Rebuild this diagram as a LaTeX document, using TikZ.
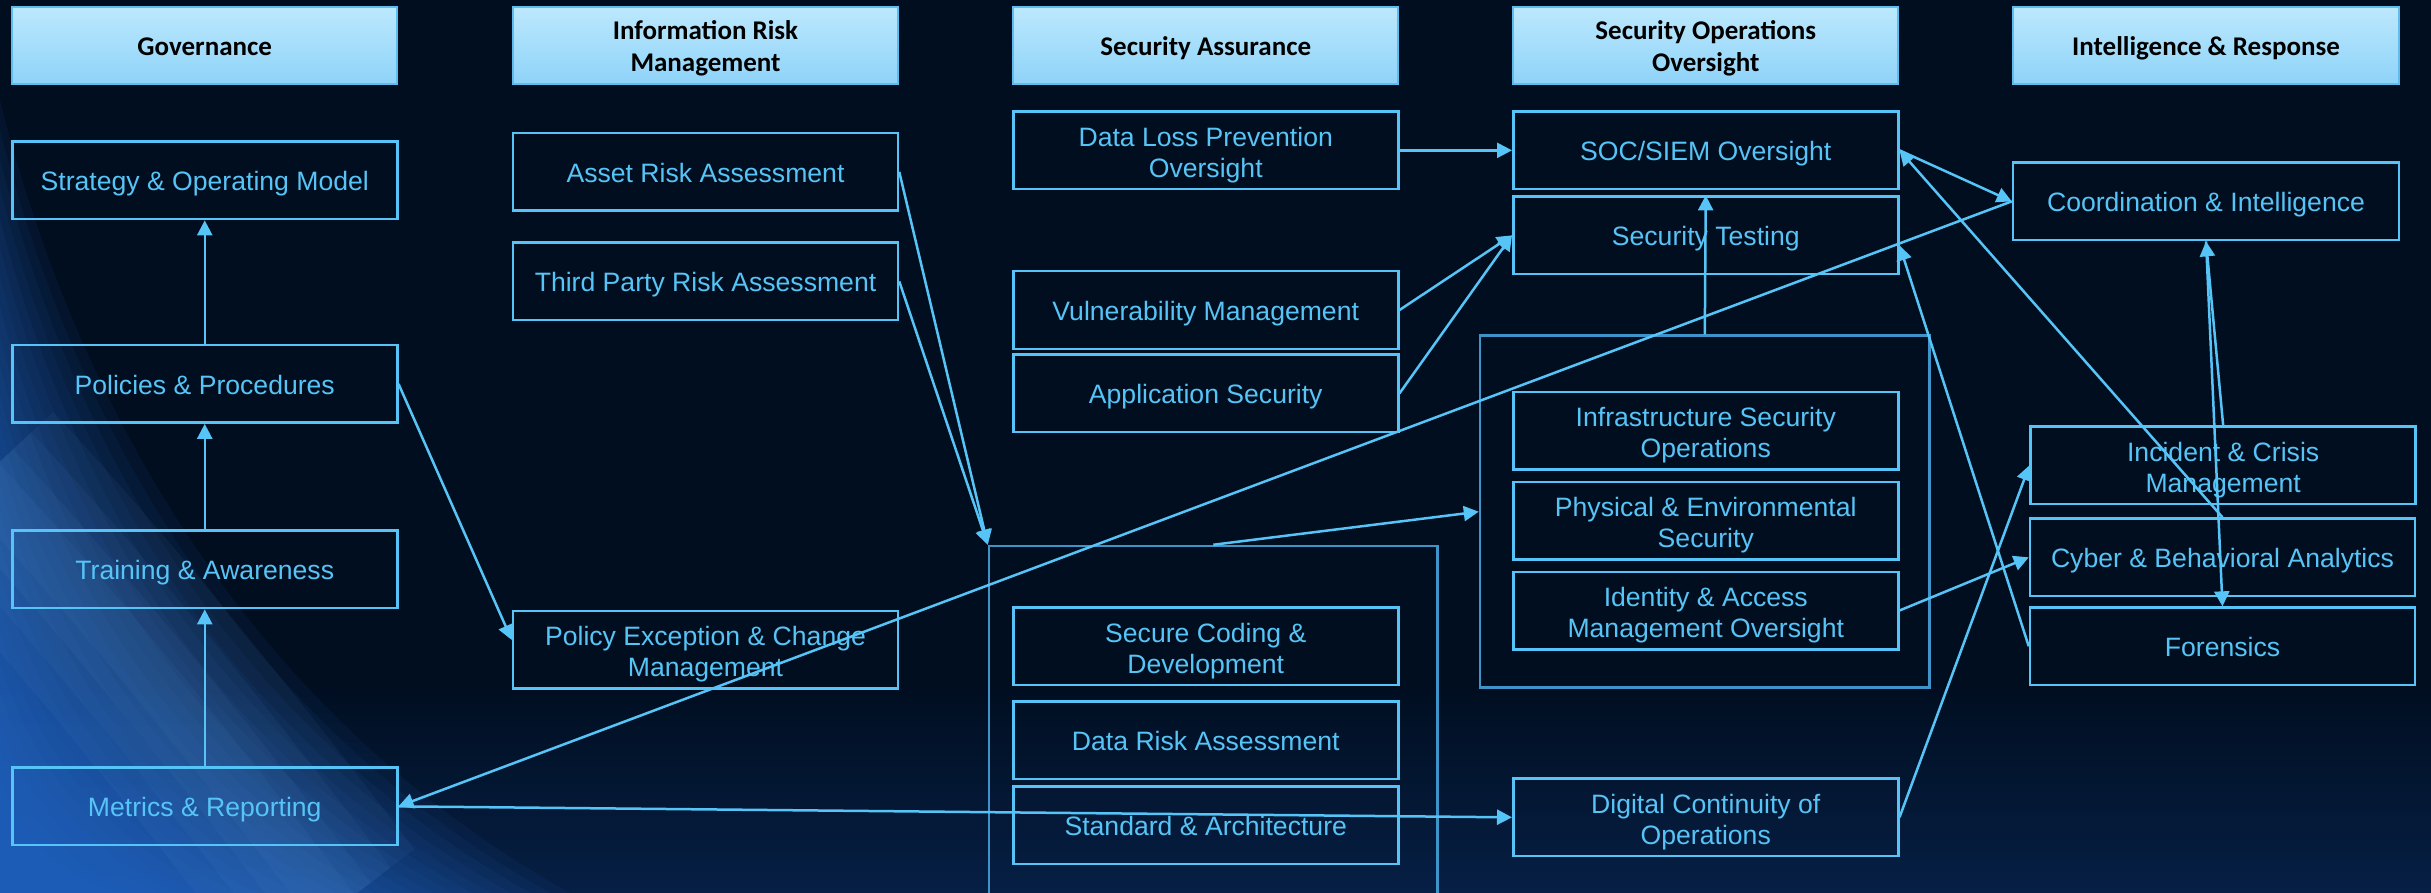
\documentclass[tikz,border=0pt]{standalone}
\usepackage{fontspec}
\setmainfont{Liberation Sans}
\newfontfamily\headfont{Carlito}
\usetikzlibrary{arrows.meta}

\definecolor{bg}{RGB}{1,14,32}
\definecolor{ink}{RGB}{86,196,246}
\definecolor{frame}{RGB}{62,148,200}
\definecolor{headtop}{RGB}{188,232,253}
\definecolor{headbot}{RGB}{142,211,249}
\definecolor{headline}{RGB}{95,188,238}
\definecolor{sweep}{RGB}{42,115,218}
\definecolor{sheen}{RGB}{125,185,245}
\definecolor{glow}{RGB}{8,36,78}

% struts that keep the capitals near the middle of a box
\newcommand\bodystrut{\rule[-8pt]{0pt}{37pt}}
\newcommand\headstrut{\rule[-8pt]{0pt}{35.4pt}}
\newcommand\bodypairstrut{\rule[-8pt]{0pt}{70pt}}
\newcommand\headpairstrut{\rule[-8pt]{0pt}{67.4pt}}

\tikzset{
  box/.style={draw=ink, line width=2.5pt, text=ink, align=center,
    minimum width=385pt, minimum height=77.5pt, inner sep=0pt,
    font=\fontsize{26.6}{31}\selectfont,
    execute at begin node=\bodystrut},
  box2/.style={box, execute at begin node=\bodypairstrut},
  head/.style={draw=headline, line width=2pt, top color=headtop, bottom color=headbot,
    text=black, align=center, minimum width=385pt, minimum height=77pt, inner sep=0pt,
    font=\headfont\bfseries\fontsize{27}{32}\selectfont,
    execute at begin node=\headstrut},
  head2/.style={head, execute at begin node=\headpairstrut},
  group/.style={draw=frame, line width=2.5pt, inner sep=0pt},
  link/.style={draw=ink, line width=2.5pt, -{Triangle[length=15pt,width=15pt]}},
}

\begin{document}
\begin{tikzpicture}[x=1pt,y=-1pt]
\useasboundingbox (0,0) rectangle (2431,893);
\begin{scope}
\clip (0,0) rectangle (2431,893);

% background: dark navy, a faint glow along the bottom, a blue sweep in the lower left
\fill[bg] (0,0) rectangle (2431,893);
\shade[top color=bg, bottom color=glow, opacity=0.8] (0,680) rectangle (2431,893);
\foreach \i in {0,...,23}{
  \pgfmathsetmacro\t{\i/23}
  \fill[sweep, opacity=0.065]
    (0,{100+680*\t}) .. controls ({80-60*\t},{420+420*\t}) and ({260-190*\t},{720+160*\t}) ..
    ({570-450*\t},893) -- (0,893) -- cycle;
}
\foreach \w in {200,140,90,50}{
  \draw[sheen, opacity=0.05, line width=\w pt]
    (-20,480) .. controls (110,620) and (220,760) .. (335,910);
}

% column headers
\node[head]  (hgov) at (204.75,45.5) {Governance};
\node[head2] (hirm) at (705.5,45.5) {Information Risk\\Management};
\node[head]  (hsa)  at (1205.75,45.5) {Security Assurance};
\node[head2] (hsoo) at (1705.75,45.5) {Security Operations\\Oversight};
\node[head, minimum width=386pt] (hir) at (2206,45.5) {Intelligence \& Response};

% grouping frames
\node[group, minimum width=448.6pt, minimum height=454pt] (cont1) at (1213.3,773) {};
\node[group, minimum width=449.6pt, minimum height=352pt] (cont2) at (1704.8,511.7) {};

% governance
\node[box] (strat) at (204.75,180.35) {Strategy \& Operating Model};
\node[box] (pol)   at (204.75,383.85) {Policies \& Procedures};
\node[box] (train) at (204.75,569.35) {Training \& Awareness};
\node[box] (metr)  at (204.75,806.35) {Metrics \& Reporting};

% information risk management
\node[box]  (asset) at (705.5,171.85) {Asset Risk Assessment};
\node[box]  (third) at (705.5,281.35) {Third Party Risk Assessment};
\node[box2] (polex) at (705.5,649.5) {Policy Exception \& Change\\Management};

% security assurance
\node[box2] (dlp)   at (1205.75,150.35) {Data Loss Prevention\\Oversight};
\node[box]  (vuln)  at (1205.75,310) {Vulnerability Management};
\node[box]  (app)   at (1205.75,393.35) {Application Security};
\node[box2] (sec)   at (1205.75,646.35) {Secure Coding \&\\Development};
\node[box]  (drisk) at (1205.75,740) {Data Risk Assessment};
\node[box]  (std)   at (1205.75,825.35) {Standard \& Architecture};

% security operations oversight
\node[box]  (soc)   at (1705.75,150.35) {SOC/SIEM Oversight};
\node[box]  (test)  at (1705.75,235.35) {Security Testing};
\node[box2] (infra) at (1705.75,430.8) {Infrastructure Security\\Operations};
\node[box2] (phys)  at (1705.75,520.8) {Physical \& Environmental\\Security};
\node[box2] (iam)   at (1705.75,610.5) {Identity \& Access\\Management Oversight};
\node[box2] (dig)   at (1705.75,817.35) {Digital Continuity of\\Operations};

% intelligence and response
\node[box, minimum width=386pt] (coord) at (2206,201.35) {Coordination \& Intelligence};
\node[box2] (inc)   at (2223.15,465.35) {Incident \& Crisis\\Management};
\node[box]  (cyber) at (2222.5,557.35) {Cyber \& Behavioral Analytics};
\node[box]  (foren) at (2222.5,646.35) {Forensics};

% connectors
\draw[link] (pol.north) -- (strat.south);
\draw[link] (train.north) -- (pol.south);
\draw[link] (metr.north) -- (train.south);
\draw[link] (pol.east) -- ([yshift=9.5pt]polex.west);
\draw[link] (asset.east) -- (cont1.north west);
\draw[link] (third.east) -- (cont1.north west);
\draw[link] (dlp.east) -- (soc.west);
\draw[link] (vuln.east) -- (test.west);
\draw[link] (app.east) -- (test.west);
\draw[link] (cont2.north) -- (test.north);
\draw[link] (cont1.north) -- (cont2.west);
\draw[link] (metr.east) -- (dig.west);
\draw[link] (coord.west) -- (metr.east);
\draw[link] (soc.east) -- (coord.west);
\draw[link] (cyber.north) -- (soc.east);
\draw[link] (inc.north) -- (coord.south);
\draw[link] (coord.south) -- (foren.north);
\draw[link] (iam.east) -- (cyber.west);
\draw[link] (dig.east) -- (inc.west);
\draw[link] (foren.west) -- ([yshift=-10pt]test.east);
\end{scope}
\end{tikzpicture}
\end{document}
